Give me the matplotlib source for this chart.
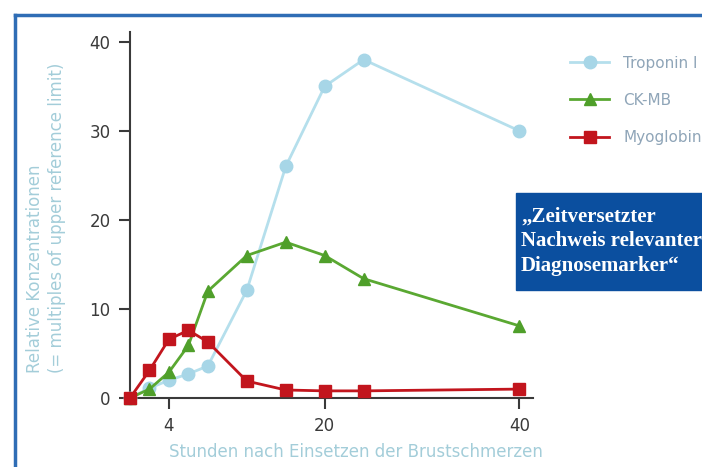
"""Zeitverlauf kardialer Marker nach Einsetzen der Brustschmerzen."""
import matplotlib

matplotlib.use("Agg")
import matplotlib.pyplot as plt
from matplotlib.patches import Rectangle

hours = [0, 2, 4, 6, 8, 12, 16, 20, 24, 40]
troponin = [0, 1.1, 2.0, 2.7, 3.6, 12.1, 26, 35, 38, 30]
ckmb = [0, 1.0, 2.9, 5.9, 12, 16, 17.5, 16, 13.4, 8.1]
myoglobin = [0, 3.1, 6.6, 7.6, 6.3, 1.9, 0.9, 0.8, 0.8, 1.0]
x_ticks = [4, 20, 40]
y_ticks = [0, 10, 20, 30, 40]

label_color = "#a3cdd9"
tick_color = "#3a3a3a"

fig = plt.figure(figsize=(7.02, 4.67), dpi=100)
ax = fig.add_axes([130 / 702, 69 / 467, 403 / 702, 366 / 467])

ax.plot(hours, troponin, color="#b5dfec", lw=2, marker="o", ms=9,
        mfc="#a7d6e7", mec="#a7d6e7", label="Troponin I", clip_on=False, zorder=3)
ax.plot(hours, ckmb, color="#5aa832", lw=2, marker="^", ms=9,
        mfc="#4f9f2a", mec="#4f9f2a", label="CK-MB", clip_on=False, zorder=4)
ax.plot(hours, myoglobin, color="#c2151d", lw=2, marker="s", ms=8.5,
        mfc="#c2151d", mec="#c2151d", label="Myoglobin", clip_on=False, zorder=5)

ax.set_xlim(0, 41.4)
ax.set_ylim(0, 41.1)
ax.set_xticks(x_ticks)
ax.set_yticks(y_ticks)
for side in ("top", "right"):
    ax.spines[side].set_visible(False)
for side in ("left", "bottom"):
    ax.spines[side].set_color(tick_color)
    ax.spines[side].set_linewidth(1.5)
ax.tick_params(colors=tick_color, labelcolor=tick_color, labelsize=12,
               length=8, width=1.5, pad=6)

fig.text(46 / 702, (467 - 373) / 467,
         "Relative Konzentrationen\n(= multiples of upper reference limit)",
         rotation=90, ha="center", va="bottom", multialignment="left",
         color=label_color, fontsize=12, linespacing=1.25)
fig.text(356 / 702, (467 - 452) / 467, "Stunden nach Einsetzen der Brustschmerzen",
         ha="center", va="center", color=label_color, fontsize=12)

leg = fig.legend(loc="upper left", bbox_to_anchor=(562 / 702, 1 - 48 / 467),
                 frameon=False, fontsize=11, labelspacing=1.45,
                 handlelength=2.6, handletextpad=0.9, borderpad=0)
for text in leg.get_texts():
    text.set_color("#8fa5b8")

# blauer Kasten mit Zitat
fig.patches.append(Rectangle((516 / 702, (467 - 290) / 467), 200 / 702, 97 / 467,
                             transform=fig.transFigure, color="#0b4f9f", zorder=1))
fig.text(521 / 702, (467 - 241) / 467,
         "„Zeitversetzter\nNachweis relevanter\nDiagnosemarker“",
         ha="left", va="center", color="white", fontsize=15, fontweight="bold",
         family="Liberation Serif", linespacing=1.3, zorder=2)

# Seitenrahmen
fig.add_artist(plt.Line2D([15 / 702, 15 / 702], [0, 1 - 15 / 467],
                          transform=fig.transFigure, color="#2f6db5", lw=2.5))
fig.add_artist(plt.Line2D([15 / 702, 1], [1 - 15 / 467, 1 - 15 / 467],
                          transform=fig.transFigure, color="#2f6db5", lw=2.5))

fig.savefig("out.png", dpi=100)
plt.close(fig)
